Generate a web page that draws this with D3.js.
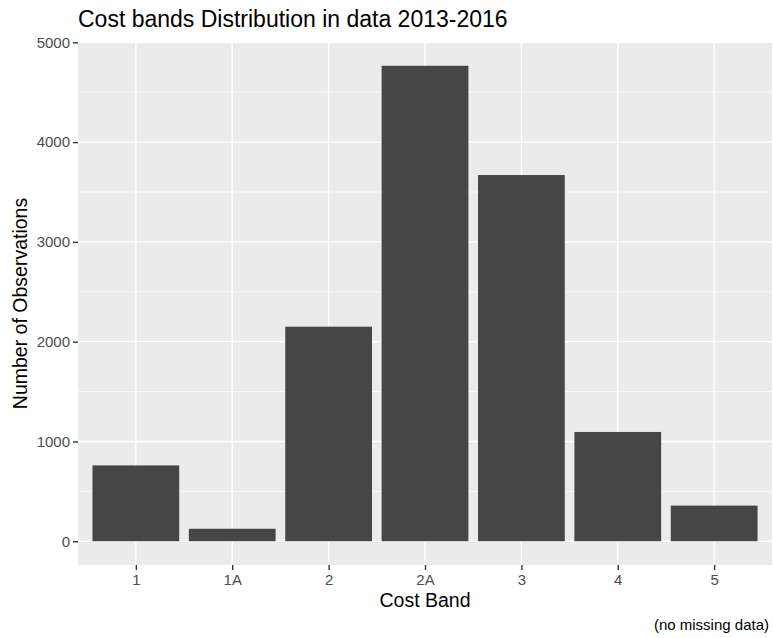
<!DOCTYPE html>
<html>
<head>
<meta charset="utf-8">
<script src="https://cdn.jsdelivr.net/npm/d3@7"></script>
<style>
  html, body { margin: 0; padding: 0; background: #fff; }
  svg { display: block; font-family: "Liberation Sans", Arial, Helvetica, sans-serif; }
</style>
</head>
<body>
<svg id="chart" width="774" height="638"></svg>
<script>
const categories = ["1", "1A", "2", "2A", "3", "4", "5"];
const counts = [760, 125, 2150, 4765, 3670, 1095, 357];
const yTicks = [0, 1000, 2000, 3000, 4000, 5000];
const yMinor = [500, 1500, 2500, 3500, 4500];
const titleText = "Cost bands Distribution in data 2013-2016";
const xTitle = "Cost Band";
const yTitle = "Number of Observations";
const captionText = "(no missing data)";

const svg = d3.select("#chart");
const W = 774, H = 638;
const panel = { left: 78, right: 772, top: 42, bottom: 565 };

// discrete scale with ggplot-like expansion (0.6 units each side)
const n = categories.length;
const unit = (panel.right - panel.left) / (n - 1 + 1.2);
const x = d3.scalePoint().domain(categories)
  .range([panel.left + 0.6 * unit, panel.right - 0.6 * unit]);
const barW = 0.9 * unit;

const maxV = d3.max(counts);
const y = d3.scaleLinear().domain([-0.05 * maxV, 1.05 * maxV])
  .range([panel.bottom, panel.top]);

// panel background
svg.append("rect")
  .attr("x", panel.left).attr("y", panel.top)
  .attr("width", panel.right - panel.left).attr("height", panel.bottom - panel.top)
  .attr("fill", "#EBEBEB");

const grid = svg.append("g");
grid.selectAll(".minor").data(yMinor).join("line")
  .attr("x1", panel.left).attr("x2", panel.right)
  .attr("y1", d => y(d)).attr("y2", d => y(d))
  .attr("stroke", "#fff").attr("stroke-width", 0.7);
grid.selectAll(".majory").data(yTicks).join("line")
  .attr("x1", panel.left).attr("x2", panel.right)
  .attr("y1", d => y(d)).attr("y2", d => y(d))
  .attr("stroke", "#fff").attr("stroke-width", 1.4);
grid.selectAll(".majorx").data(categories).join("line")
  .attr("x1", d => x(d)).attr("x2", d => x(d))
  .attr("y1", panel.top).attr("y2", panel.bottom)
  .attr("stroke", "#fff").attr("stroke-width", 1.4);

// bars
svg.append("g").selectAll("rect").data(categories).join("rect")
  .attr("x", (d) => x(d) - barW / 2)
  .attr("width", barW)
  .attr("y", (d, i) => y(counts[i]))
  .attr("height", (d, i) => y(0) - y(counts[i]))
  .attr("fill", "#464646");

// axes
const yAxis = d3.axisLeft(y).tickValues(yTicks).tickSize(5).tickPadding(3).tickFormat(d3.format("d"));
const gy = svg.append("g").attr("transform", `translate(${panel.left},0)`).call(yAxis);
gy.select(".domain").remove();
gy.selectAll(".tick line").attr("stroke", "#333").attr("stroke-width", 1.4);
gy.selectAll(".tick text").attr("fill", "#4D4D4D").style("font-size", "15px")
  .attr("font-family", "Liberation Sans, Arial, sans-serif");

const xAxis = d3.axisBottom(x).tickSize(5).tickPadding(4);
const gx = svg.append("g").attr("transform", `translate(0,${panel.bottom})`).call(xAxis);
gx.select(".domain").remove();
gx.selectAll(".tick line").attr("stroke", "#333").attr("stroke-width", 1.4);
gx.selectAll(".tick text").attr("fill", "#4D4D4D").style("font-size", "15px")
  .attr("font-family", "Liberation Sans, Arial, sans-serif");

// titles
svg.append("text").attr("x", panel.left).attr("y", 27)
  .attr("fill", "#000").style("font-size", "23px").text(titleText);
svg.append("text").attr("x", (panel.left + panel.right) / 2).attr("y", 607)
  .attr("text-anchor", "middle").attr("fill", "#000").style("font-size", "19.5px").text(xTitle);
svg.append("text")
  .attr("transform", `translate(26.5,${(panel.top + panel.bottom) / 2}) rotate(-90)`)
  .attr("text-anchor", "middle").attr("fill", "#000").style("font-size", "19.5px").text(yTitle);
svg.append("text").attr("x", 769).attr("y", 630)
  .attr("text-anchor", "end").attr("fill", "#000").style("font-size", "15px").text(captionText);
</script>
</body>
</html>
